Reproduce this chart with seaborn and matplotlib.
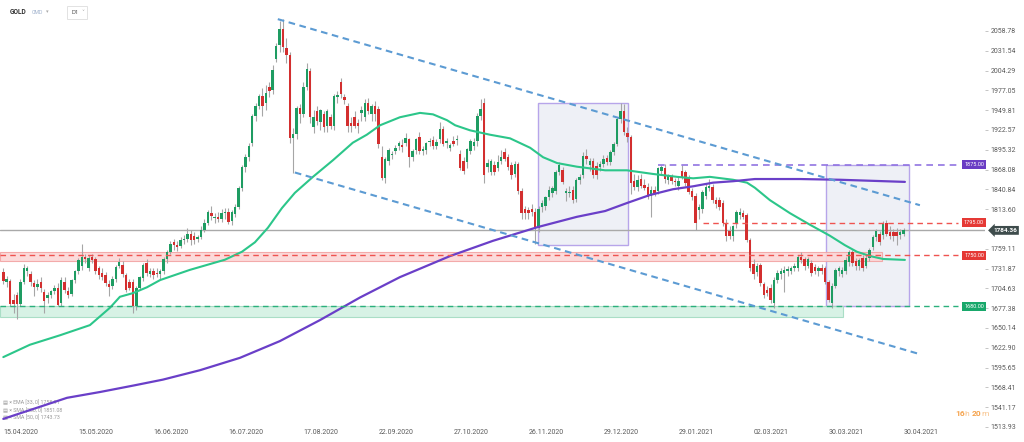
import numpy as np
import matplotlib
matplotlib.use("Agg")
import matplotlib.pyplot as plt
import matplotlib.transforms as mtrans
from matplotlib.patches import Rectangle
import seaborn as sns

sns.set_theme(style="white")
plt.rcParams['font.family'] = ['Roboto', 'DejaVu Sans']

# ---------------- data ----------------
opens = [1727,1714,1715,1689,1695,1683,1714,1728,1724,1712, 1707,1714,1700,1691,1696,1701,1705,1684,1714,1701,
         1697,1716,1728,1735,1748,1733,1748,1745,1732,1726, 1723,1711,1708,1718,1736,1737,1723,1714,1714,1680,
         1705,1719,1739,1725,1728,1726,1724,1728,1745,1755, 1768,1764,1763,1771,1772,1780,1776,1773,1775,1785,
         1795,1808,1802,1803,1800,1808,1810,1797,1807,1817, 1842,1871,1885,1905,1942,1956,1969,1959,1982,1978,
         2020,2040,2062,2035,2026,1912,1917,1953,1944,1982, 2004,1927,1948,1933,1944,1928,1940,1928,1968,1988,
         1968,1955,1932,1940,1932,1946,1940,1960,1944,1956, 1952,1885,1857,1880,1888,1894,1900,1902,1905,1910,
         1885,1895,1913,1894,1895,1906,1909,1901,1910,1924, 1905,1898,1908,1909,1890,1880,1878,1894,1900,1908,
         1942,1960,1872,1864,1874,1870,1880,1892,1885,1874, 1862,1876,1838,1814,1812,1814,1810,1787,1816,1818,
         1830,1836,1838,1865,1868,1836,1836,1840,1828,1853, 1860,1887,1874,1880,1873,1872,1876,1884,1878,1892,
         1903,1937,1949,1918,1913,1852,1844,1855,1847,1844, 1832,1840,1838,1866,1870,1853,1858,1852,1846,1866,
         1864,1857,1839,1832,1812,1814,1832,1843,1844,1826, 1826,1822,1794,1783,1776,1793,1806,1808,1805,1771,
         1738,1727,1737,1710,1703,1705,1684,1716,1724,1726, 1729,1729,1733,1733,1748,1745,1736,1740,1734,1728,
         1733,1732,1714,1684,1708,1729,1725,1728,1741,1754, 1742,1735,1746,1735,1746,1762,1775,1780,1778,1794,
         1782,1782,1782,1778,1780]
highs = [1732,1722,1718,1697,1700,1717,1738,1736,1728,1716, 1718,1720,1704,1699,1703,1709,1712,1720,1720,1706,
         1718,1730,1746,1765,1752,1750,1752,1748,1736,1732, 1727,1716,1722,1737,1746,1742,1726,1718,1718,1708,
         1722,1740,1745,1732,1733,1733,1731,1748,1758,1770, 1773,1770,1775,1778,1787,1785,1782,1778,1790,1800,
         1812,1818,1808,1810,1814,1815,1815,1812,1820,1845, 1875,1890,1905,1944,1960,1972,1980,1984,1988,2012,
         2042,2072,2075,2049,2030,1925,1955,1958,1988,2015, 2008,1950,1955,1952,1948,1952,1945,1972,1976,1994,
         1972,1960,1940,1948,1938,1955,1965,1966,1958,1962, 1956,1900,1886,1898,1893,1902,1908,1910,1918,1912,
         1896,1912,1920,1900,1906,1912,1914,1910,1933,1928, 1912,1905,1914,1915,1895,1886,1898,1910,1912,1946,
         1965,1966,1882,1882,1880,1888,1895,1898,1890,1878, 1880,1878,1842,1818,1816,1820,1815,1818,1826,1832,
         1845,1846,1868,1878,1872,1842,1845,1845,1856,1862, 1892,1896,1884,1884,1878,1880,1888,1888,1895,1906,
         1940,1959,1958,1926,1916,1862,1860,1862,1855,1850, 1845,1846,1872,1875,1876,1862,1862,1856,1858,1875,
         1868,1860,1842,1836,1820,1840,1848,1855,1848,1830, 1830,1826,1800,1790,1792,1812,1815,1812,1808,1774,
         1745,1740,1740,1714,1708,1710,1720,1730,1732,1735, 1735,1736,1740,1750,1755,1748,1748,1744,1738,1736,
         1738,1735,1716,1712,1733,1735,1734,1748,1758,1758, 1746,1747,1750,1750,1760,1778,1786,1784,1797,1798,
         1790,1786,1788,1786,1788]
lows = [1710,1706,1680,1671,1662,1680,1710,1722,1708,1694, 1702,1700,1671,1684,1692,1697,1680,1680,1698,1692,
        1694,1712,1725,1730,1740,1728,1740,1724,1718,1716, 1708,1694,1704,1714,1732,1720,1700,1702,1671,1675,
        1702,1715,1722,1720,1718,1720,1717,1724,1740,1752, 1758,1756,1760,1766,1768,1764,1766,1768,1772,1782,
        1792,1798,1795,1796,1796,1800,1793,1792,1803,1814, 1838,1865,1880,1900,1935,1952,1942,1950,1968,1972,
        2016,2030,2030,2015,1905,1863,1910,1932,1940,1978, 1932,1918,1930,1922,1920,1920,1924,1922,1960,1966,
        1958,1920,1920,1925,1918,1935,1935,1944,1935,1935, 1898,1853,1850,1875,1882,1890,1895,1892,1900,1872,
        1880,1890,1890,1888,1890,1900,1896,1896,1905,1900, 1898,1893,1900,1902,1868,1862,1870,1890,1895,1900,
        1936,1850,1864,1860,1860,1866,1876,1880,1868,1855, 1858,1835,1800,1800,1800,1804,1765,1782,1810,1812,
        1826,1830,1834,1860,1848,1825,1830,1822,1824,1848, 1856,1876,1866,1856,1855,1866,1872,1874,1874,1888,
        1900,1932,1915,1906,1835,1840,1838,1842,1840,1828, 1803,1832,1835,1862,1850,1848,1848,1845,1840,1855,
        1845,1835,1826,1785,1800,1808,1828,1838,1822,1815, 1812,1790,1770,1772,1770,1788,1800,1800,1768,1728,
        1718,1722,1708,1692,1694,1685,1677,1712,1718,1700, 1722,1724,1728,1728,1740,1730,1732,1722,1724,1722,
        1724,1710,1686,1677,1705,1722,1720,1724,1736,1735, 1730,1730,1728,1732,1742,1758,1770,1764,1772,1776,
        1772,1770,1764,1772,1776]
closes = [1715,1717,1683,1683,1683,1714,1732,1732,1714,1707, 1711,1705,1687,1696,1701,1705,1682,1716,1702,1696,
          1716,1728,1744,1748,1745,1746,1744,1728,1723,1720, 1712,1707,1718,1734,1741,1724,1703,1705,1680,1705,
          1720,1737,1726,1728,1723,1724,1728,1745,1755,1766, 1764,1762,1771,1773,1780,1771,1771,1775,1785,1794,
          1810,1804,1803,1800,1808,1810,1796,1810,1817,1842, 1871,1885,1901,1942,1956,1969,1955,1973,1976,2005,
          2038,2062,2036,2026,1911,1917,1953,1944,1982,2006, 1940,1940,1935,1950,1926,1948,1928,1969,1970,1972,
          1964,1928,1928,1928,1928,1950,1960,1949,1955,1945, 1903,1857,1883,1895,1890,1898,1904,1899,1912,1885,
          1893,1910,1894,1897,1904,1908,1900,1906,1924,1903, 1908,1902,1903,1910,1870,1866,1896,1908,1906,1942,
          1951,1860,1877,1880,1865,1878,1885,1883,1872,1860, 1876,1838,1808,1808,1808,1809,1787,1814,1822,1830,
          1840,1842,1865,1874,1851,1838,1837,1826,1853,1858, 1887,1882,1880,1860,1860,1876,1882,1878,1892,1903,
          1937,1949,1920,1913,1849,1844,1853,1845,1842,1830, 1840,1836,1870,1871,1855,1859,1852,1851,1852,1858,
          1849,1837,1830,1794,1816,1837,1844,1845,1826,1821, 1817,1794,1776,1776,1790,1810,1810,1803,1771,1732,
          1725,1735,1712,1696,1698,1689,1716,1726,1728,1730, 1731,1733,1735,1748,1744,1735,1745,1726,1728,1732,
          1728,1714,1689,1708,1730,1732,1730,1744,1754,1739, 1735,1744,1732,1746,1758,1775,1784,1769,1794,1780,
          1776,1776,1777,1782,1784.36]

# moving averages (bar index, price)
sma50_x = [0, 7.8, 16.6, 25.4, 31.3, 34.2, 38.0, 42.1, 46.0, 54.7, 65.0, 70.0, 73.8, 77.6, 81.7, 85.5, 90.8,
           96.7, 102.5, 106.6, 110.5, 116.3, 122.2, 126.0, 130.1, 132.5, 136.9, 142.7, 148.6, 154.5, 158.3,
           162.4, 168.2, 176.5, 182.9, 190.5, 197.6, 202.3, 207.2, 214.0, 218.1, 220.4, 224.8, 230.7, 236.6,
           242.4, 246.8, 250.3, 254.2, 258.0, 264.4]
sma50_y = [1610, 1627, 1640, 1654, 1678, 1693, 1698, 1706, 1716, 1730, 1744, 1755, 1768, 1788, 1815, 1836, 1858,
           1881, 1905, 1916, 1929, 1940, 1946, 1944, 1936, 1929, 1922, 1916, 1911, 1898, 1885,
           1877, 1872, 1867, 1867, 1862, 1858, 1856, 1858, 1854, 1850, 1843, 1826, 1808, 1792,
           1777, 1764, 1755, 1749, 1745, 1743.73]
sma200_x = [0, 18.7, 28.4, 38.3, 46.8, 57.7, 69.4, 81.1, 92.9, 104.6, 116.3, 131.0, 143.6, 156.8, 168.2,
            176.5, 182.9, 189.6, 196.4, 202.3, 208.1, 214.0, 220.4, 233.6, 245.4, 264.4]
sma200_y = [1525, 1554, 1562, 1571, 1579, 1592, 1609, 1632, 1661, 1692, 1720, 1749, 1770, 1789, 1803,
            1811, 1822, 1833, 1841, 1845, 1850, 1852, 1855, 1855, 1854, 1851.08]

# channel trend lines (bar index, price)
chan_up_x, chan_up_y = [80.5, 268.8], [2075, 1819]
chan_dn_x, chan_dn_y = [85.5, 268.8], [1864, 1614]

# levels
level_purple = 1875.00
level_red_hi = 1795.00
level_red_lo = 1750.00
level_green = 1680.00
last_price = 1784.36
red_zone = (1742, 1754)
green_zone = (1665, 1680)

# highlight boxes: (bar start, bar end, price low, price high)
box1 = (156.9, 183.3, 1764, 1960)
box2 = (241.4, 265.6, 1680, 1875)

ytick_vals = [2058.78, 2031.54, 2004.29, 1977.05, 1949.81, 1922.57, 1895.32, 1868.08, 1840.84, 1813.60,
              1759.11, 1731.87, 1704.63, 1677.38, 1650.14, 1622.90, 1595.65, 1568.41, 1541.17, 1513.93]
xtick_pos = [0, 22, 44, 66, 88, 110, 132, 154, 176, 198, 220, 242, 264]
xtick_labels = ["15.04.2020", "15.05.2020", "16.06.2020", "16.07.2020", "17.08.2020", "22.09.2020",
                "27.10.2020", "26.11.2020", "29.12.2020", "29.01.2021", "02.03.2021", "30.03.2021",
                "30.04.2021"]
legend_rows = ["EMA [33, 0] 1758.91", "SMA [200, 0] 1851.08", "SMA [50, 0] 1743.73"]

# ---------------- layout ----------------
W, H = 1024, 442
X0, DX = 3.3, 3.41            # pixel of bar 0, pixels per bar
AX_R = 985                    # right edge of plotting area in px
P_REF, Y_REF, S = 1875.0, 164.5, 0.7268   # price <-> pixel

fig = plt.figure(figsize=(W / 100, H / 100), dpi=100)
ax = fig.add_axes([0, 0, AX_R / W, 1])
ax.set_facecolor("white")
ax.set_xlim((0 - X0) / DX, (AX_R - X0) / DX)
ax.set_ylim(P_REF - (H - Y_REF) / S, P_REF + Y_REF / S)
for sp in ax.spines.values():
    sp.set_visible(False)
ax.grid(False)

def bx(px):
    return (px - X0) / DX

GREEN, RED = "#1e9c62", "#d32f2f"

# boxes
for (b0, b1, lo_, hi_) in (box1, box2):
    ax.add_patch(Rectangle((b0, lo_), b1 - b0, hi_ - lo_, facecolor="#eef0f6", edgecolor="#b7a5ea",
                           linewidth=1.0, zorder=1))
# zones
ax.add_patch(Rectangle((bx(0), red_zone[0]), bx(882) - bx(0), red_zone[1] - red_zone[0],
                       facecolor="#fcd6d6", edgecolor="#f2a3a3", linewidth=0.8, alpha=0.9, zorder=2))
ax.add_patch(Rectangle((bx(0), green_zone[0]), bx(843) - bx(0), green_zone[1] - green_zone[0],
                       facecolor="#d3f1e3", edgecolor="#a3dcc2", linewidth=0.8, alpha=0.9, zorder=2))

# current price line
ax.axhline(last_price, color="#a9a9a9", lw=1.0, zorder=2)

# candles
idx = np.arange(len(closes))
o = np.array(opens, float); c = np.array(closes, float)
hi = np.array(highs, float); lo = np.array(lows, float)
up = c >= o
ax.vlines(idx, lo, hi, color="#a6a6a6", lw=0.8, zorder=3)
bottoms = np.minimum(o, c)
heights = np.maximum(np.abs(c - o), 1.2)
ax.bar(idx, heights, bottom=bottoms, width=0.72, color=np.where(up, GREEN, RED), linewidth=0, zorder=4)

# moving averages
sns.lineplot(x=sma50_x, y=sma50_y, ax=ax, color="#2cc68a", linewidth=1.5, zorder=5)
sns.lineplot(x=sma200_x, y=sma200_y, ax=ax, color="#6a3fc8", linewidth=1.6, zorder=5)

# channel
ax.plot(chan_up_x, chan_up_y, color="#5c9bd3", lw=1.5, ls=(0, (3.2, 2.2)), zorder=6)
ax.plot(chan_dn_x, chan_dn_y, color="#5c9bd3", lw=1.5, ls=(0, (3.2, 2.2)), zorder=6)

# dashed levels
end_b = bx(958)
ax.hlines(level_red_lo, bx(0), end_b, colors="#ef5350", lw=1.0, linestyles=(0, (4, 3)), zorder=5)
ax.hlines(level_green, bx(0), end_b, colors="#2bb07c", lw=1.0, linestyles=(0, (4, 3)), zorder=5)
ax.hlines(level_purple, bx(658), end_b, colors="#9174e2", lw=1.2, linestyles=(0, (4, 3)), zorder=5)
ax.hlines(level_red_hi, bx(703), end_b, colors="#ef5350", lw=1.0, linestyles=(0, (4, 3)), zorder=5)

# level tags
tag_tr = mtrans.blended_transform_factory(fig.transFigure, ax.transData)
for val, col in ((level_purple, "#6a3cc4"), (level_red_hi, "#e53935"),
                 (level_red_lo, "#e53935"), (level_green, "#19a86b")):
    ax.text(974 / W, val, f"{val:.2f}", transform=tag_tr, ha="center", va="center", fontsize=4,
            color="white", zorder=10, clip_on=False,
            bbox=dict(boxstyle="square,pad=0.35", fc=col, ec="none"))
ax.text(1005 / W, last_price, f"{last_price:.2f}", transform=tag_tr, ha="center", va="center",
        fontsize=4.6, color="white", fontweight="bold", zorder=11, clip_on=False,
        bbox=dict(boxstyle="larrow,pad=0.3", fc="#3e4c4c", ec="none"))

# axes ticks
ax.yaxis.tick_right()
ax.set_yticks(ytick_vals)
ax.set_yticklabels([f"{v:.2f}" for v in ytick_vals])
ax.tick_params(axis="y", which="both", right=True, length=2.5, width=0.6, color="#bbbbbb",
               pad=1.5, labelsize=5, labelcolor="#5a5a5a")
ax.set_xticks(xtick_pos)
ax.set_xticklabels(xtick_labels)
ax.tick_params(axis="x", which="both", bottom=True, length=0, pad=-9.5, labelsize=5, labelcolor="#5a5a5a")
for t in ax.get_xticklabels():
    t.set_ha("left")

# legend (bottom-left)
for i, row in enumerate(legend_rows):
    ax.text(3 / W, 1 - (403 + 7.5 * i) / H, "▤ × " + row, transform=fig.transFigure, fontsize=3.8,
            color="#9a9a9a", va="center", ha="left", zorder=4.5)

# header
fig.text(10 / W, 1 - 12 / H, "GOLD", fontsize=4.8, fontweight="bold", color="#333333", va="center")
fig.text(32 / W, 1 - 12 / H, "OMD", fontsize=3.8, color="#9fb1cc", va="center")
fig.text(46 / W, 1 - 12 / H, "▾", fontsize=3.8, color="#aaaaaa", va="center")
fig.patches.append(Rectangle((67 / W, 1 - 19 / H), 20 / W, 13 / H, transform=fig.transFigure,
                             facecolor="white", edgecolor="#e2e2e2", linewidth=0.7))
fig.text(71 / W, 1 - 12.5 / H, "D1", fontsize=4.3, color="#555555", va="center")
fig.text(81 / W, 1 - 12.5 / H, "˅", fontsize=4.3, color="#aaaaaa", va="center")

# countdown
fig.text(955 / W, 1 - 414 / H, "16", fontsize=6, fontweight="bold", color="#f5a24b", va="center")
fig.text(964.8 / W, 1 - 414 / H, "h", fontsize=6, color="#f8c28a", va="center")
fig.text(971.5 / W, 1 - 414 / H, "20", fontsize=6, fontweight="bold", color="#f5a24b", va="center")
fig.text(981.3 / W, 1 - 414 / H, "m", fontsize=6, color="#f8c28a", va="center")

fig.savefig("out.png", dpi=100, facecolor="white")
